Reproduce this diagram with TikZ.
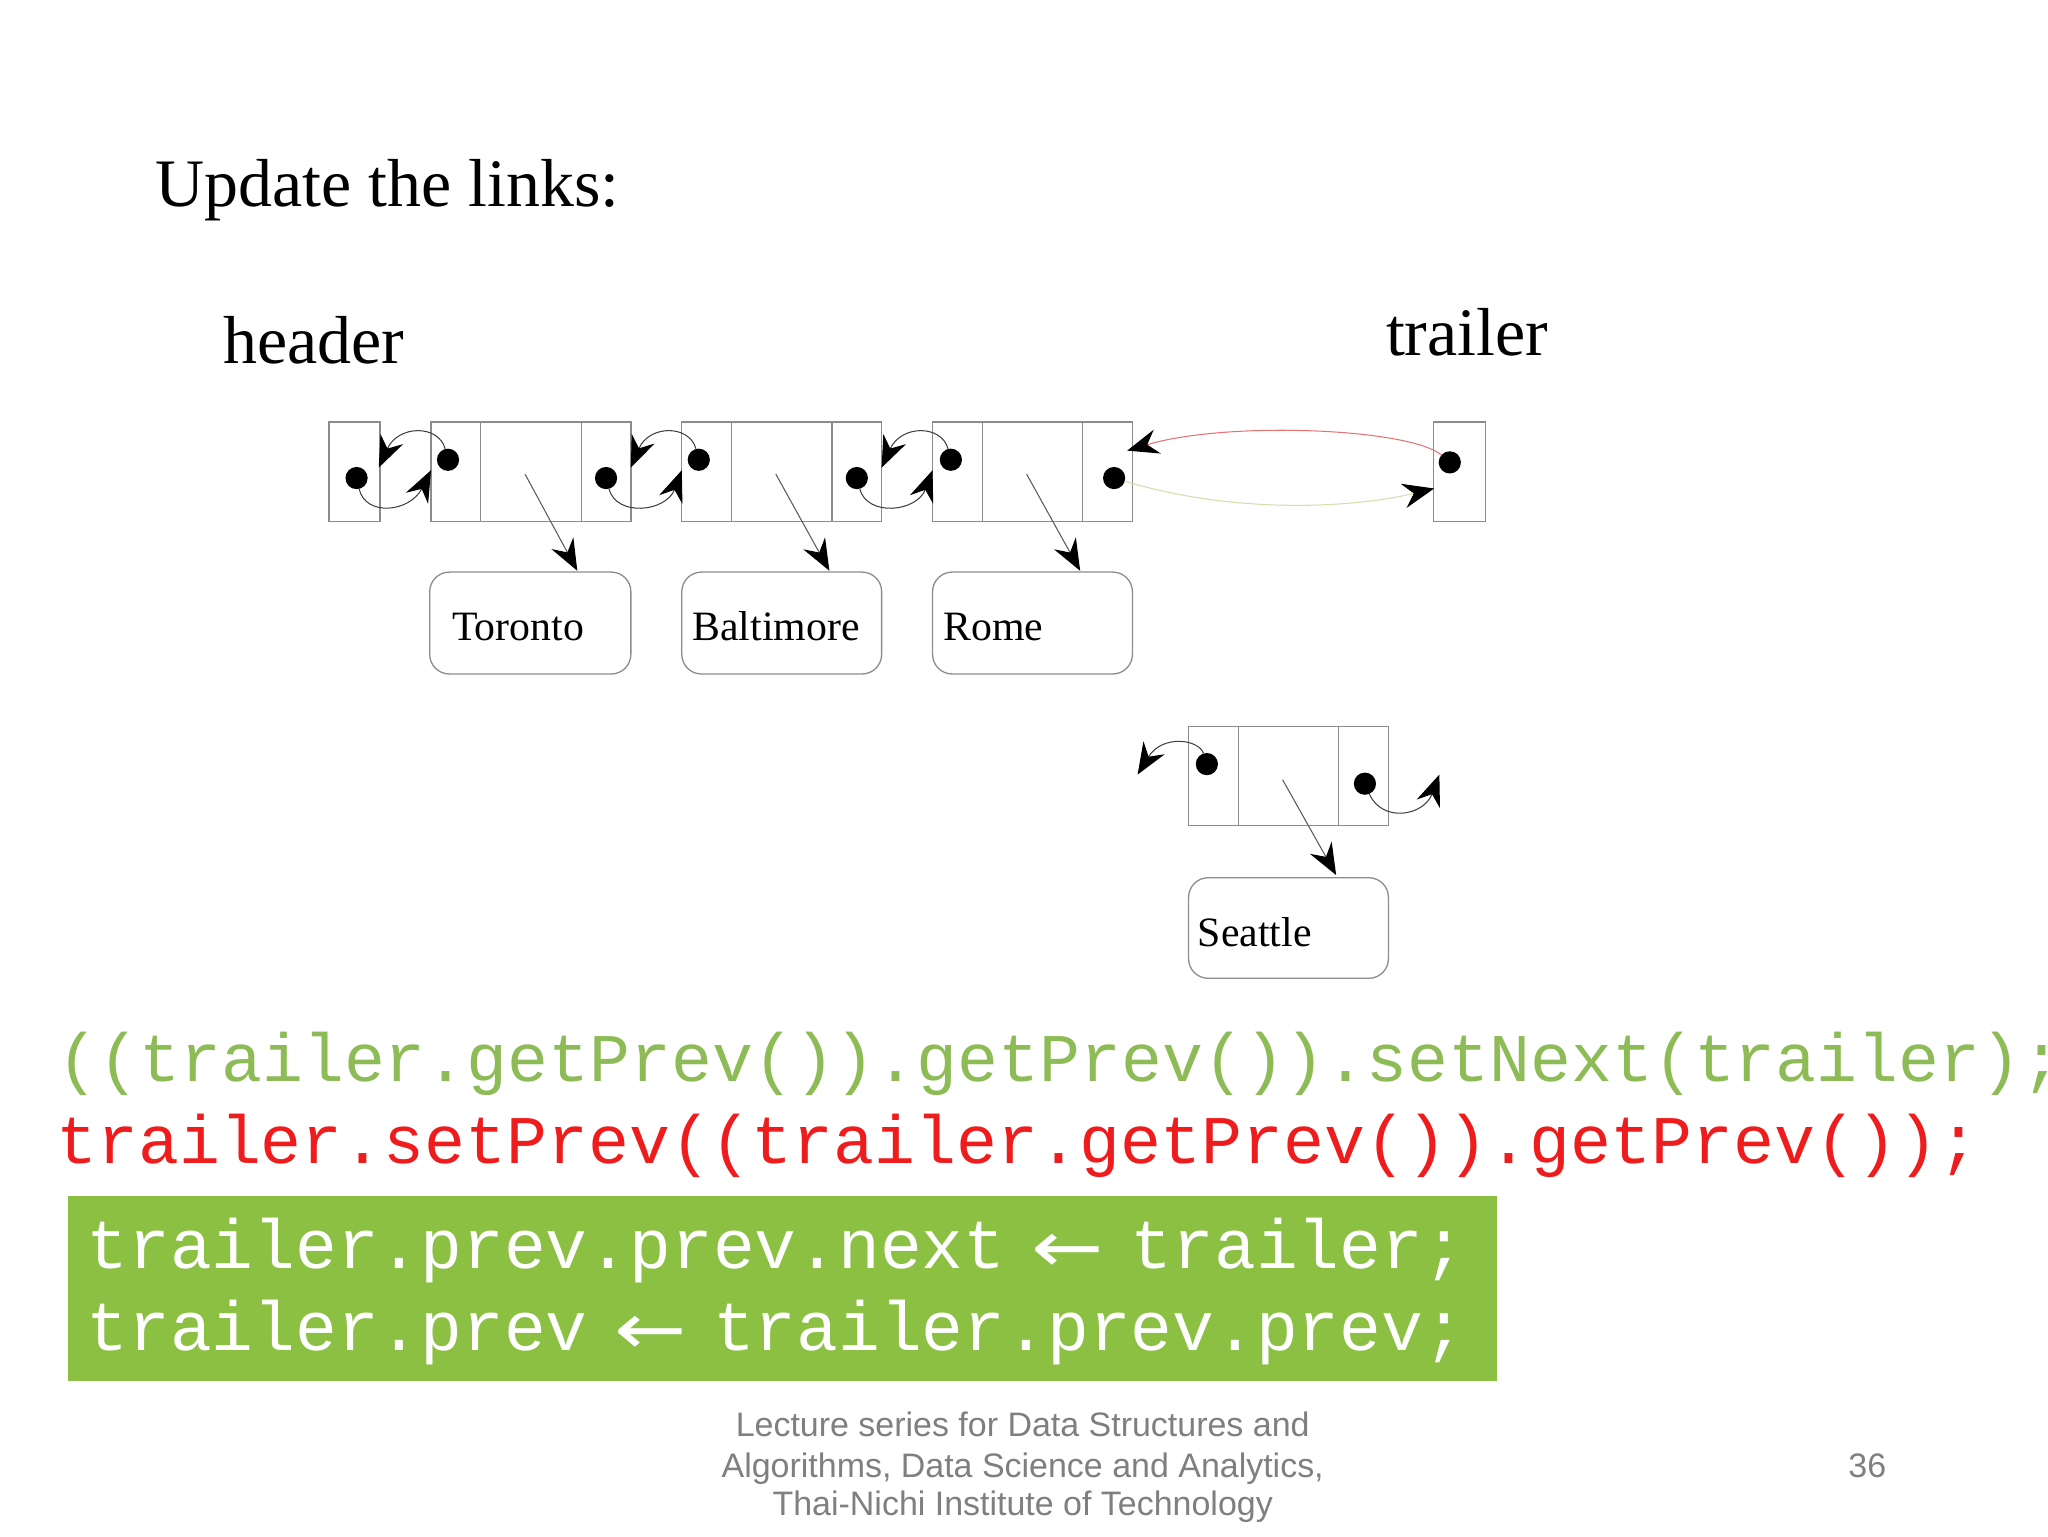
\documentclass[tikz,border=0pt]{standalone}
\usepackage{fontspec}
\usepackage{graphicx}
\setmainfont{Liberation Serif}
\newfontfamily\codefont{Liberation Mono}
\newfontfamily\footfont{Liberation Sans}
\newfontfamily\arrfont{DejaVu Sans}
\usetikzlibrary{arrows.meta}
\definecolor{boxgray}{HTML}{8C8C8C}
\definecolor{codegreen}{HTML}{8DBB55}
\definecolor{codered}{HTML}{EE1C1C}
\definecolor{boxgreen}{HTML}{8BC043}
\definecolor{linkred}{HTML}{E57373}
\definecolor{linkgreen}{HTML}{D5DCAE}
\definecolor{footgray}{HTML}{7F7F7F}
\newcommand{\codearrow}{\makebox[31.98pt][c]{\raisebox{-3pt}{\scalebox{1.25}[1.05]{\arrfont\fontsize{53}{60}\selectfont ←}}}}
\begin{document}
\begin{tikzpicture}[x=1pt,y=-1pt,
  nodecell/.style={draw=boxgray, line width=1pt, inner sep=0pt, outer sep=0pt, minimum height=76pt},
  valbox/.style={draw=boxgray, line width=1pt, rounded corners=15pt, inner sep=0pt, outer sep=0pt, minimum width=154pt, minimum height=78pt},
  divline/.style={draw=boxgray, line width=1pt},
  blob/.style={circle, fill=black, inner sep=0pt, outer sep=0pt, minimum size=17pt},
  tiphead/.style={-{Stealth[length=24pt,width=19pt,inset=8pt,color=black]}},
  link/.style={draw=black!75, line width=0.8pt, tiphead},
  vallink/.style={draw=black!65, line width=0.8pt, tiphead},
  bigtext/.style={anchor=base west, inner sep=0pt, font=\fontsize{52}{60}\selectfont},
  lbltext/.style={anchor=base west, inner sep=0pt, font=\fontsize{32}{38}\selectfont},
  codetext/.style={anchor=base west, inner sep=0pt, font=\codefont\fontsize{52.2}{60}\selectfont},
  boxtext/.style={anchor=base west, inner sep=0pt, text=white, font=\codefont\fontsize{53.3}{60}\selectfont},
  foottext/.style={anchor=base, inner sep=0pt, text=footgray, font=\footfont\fontsize{26}{30}\selectfont}
]
\useasboundingbox (0,0) rectangle (1568,1176);

% titles
\node[bigtext] (title) at (119,158) {Update the links:};
\node[bigtext] (hlabel) at (171,278) {header};
\node[bigtext] (tlabel) at (1061,272) {trailer};

% list node boxes
\node[nodecell, minimum width=39pt] (hbox) at (271.5,361) {};
\node[nodecell, minimum width=153pt] (tor) at (406.5,361) {};
\node[nodecell, minimum width=153pt] (bal) at (598.5,361) {};
\node[nodecell, minimum width=153pt] (rom) at (790.5,361) {};
\node[nodecell, minimum width=40pt] (tbox) at (1117.5,361) {};
\node[nodecell, minimum width=153pt] (sea) at (986.5,594) {};
\foreach \n in {tor,bal,rom,sea}{
  \draw[divline] ([xshift=38pt]\n.north west) -- ([xshift=38pt]\n.south west);
  \draw[divline] ([xshift=-38pt]\n.north east) -- ([xshift=-38pt]\n.south east);
}

% value boxes
\node[valbox] (torv) at (406,477) {};
\node[valbox, minimum width=153pt] (balv) at (598.5,477) {};
\node[valbox, minimum width=153pt] (romv) at (790.5,477) {};
\node[valbox, minimum width=153pt, minimum height=77pt] (seav) at (986.5,710.5) {};
\node[lbltext] (tort) at (346,490) {Toronto};
\node[lbltext] (balt) at (530,490) {Baltimore};
\node[lbltext] (romt) at (722,490) {Rome};
\node[lbltext] (seat) at (917,725) {Seattle};

% pointer dots
\node[blob] (hdot) at (273,366) {};
\node[blob] (tpd) at (343,352) {};
\node[blob] (tnd) at (464,366) {};
\node[blob] (bpd) at (535,352) {};
\node[blob] (bnd) at (656,366) {};
\node[blob] (rpd) at (728,352) {};
\node[blob] (rnd) at (853,366) {};
\node[blob] (trd) at (1110,354) {};
\node[blob] (spd) at (924,585) {};
\node[blob] (snd) at (1045,600) {};

% free ends
\coordinate (torin) at (330,360);
\coordinate (hout) at (290,358);
\coordinate (balin) at (522,360);
\coordinate (torout) at (483,358);
\coordinate (romin) at (714,360);
\coordinate (balout) at (675,358);
\coordinate (trin) at (1098,374);
\coordinate (romout) at (863,345);
\coordinate (sout) at (871,593);
\coordinate (snext) at (1102,593);
\coordinate (torp) at (402,363);
\coordinate (balp) at (594,363);
\coordinate (romp) at (786,363);
\coordinate (seap) at (982,597);
\coordinate (seain) at (1023,670);

% links
\draw[link] (hdot) .. controls (280,396) and (314,392) .. (torin);
\draw[link] (tpd) .. controls (336,325) and (305,325) .. (hout);
\draw[link] (tnd) .. controls (472,396) and (510,392) .. (balin);
\draw[link] (bpd) .. controls (528,325) and (497,325) .. (torout);
\draw[link] (bnd) .. controls (664,396) and (702,392) .. (romin);
\draw[link] (rpd) .. controls (721,325) and (690,325) .. (balout);
\draw[link, draw=linkgreen] (rnd) .. controls (950,395) and (1040,388) .. (trin);
\draw[link, draw=linkred] (trd) .. controls (1080,328) and (940,322) .. (romout);
\draw[link] (spd) .. controls (918,566) and (890,562) .. (sout);
\draw[link] (snd) .. controls (1058,630) and (1090,625) .. (snext);

% value pointers
\draw[vallink] (torp) -- ([xshift=36pt,yshift=1pt]torv.north);
\draw[vallink] (balp) -- ([xshift=36.5pt,yshift=1pt]balv.north);
\draw[vallink] (romp) -- ([xshift=36.5pt,yshift=1pt]romv.north);
\draw[vallink] (seap) -- (seain);

% code
\node[codetext, text=codegreen] (code1) at (44,828) {((trailer.getPrev()).getPrev()).setNext(trailer);};
\node[codetext, text=codered] (code2) at (43,891) {trailer.setPrev((trailer.getPrev()).getPrev());};
\node[fill=boxgreen, inner sep=0pt, minimum width=1094pt, minimum height=141pt] (gbox) at (599,986.5) {};
\node[boxtext] (g1) at (66,971) {trailer.prev.prev.next \codearrow{} trailer;};
\node[boxtext] (g2) at (66,1034) {trailer.prev \codearrow{} trailer.prev.prev;};

% footer
\node[foottext] (f1) at (783,1100) {Lecture series for Data Structures and};
\node[foottext] (f2) at (783,1131) {Algorithms, Data Science and Analytics,};
\node[foottext] (f3) at (783,1160) {Thai-Nichi Institute of Technology};
\node[foottext, anchor=base west] (pg) at (1415,1131) {36};
\end{tikzpicture}
\end{document}
